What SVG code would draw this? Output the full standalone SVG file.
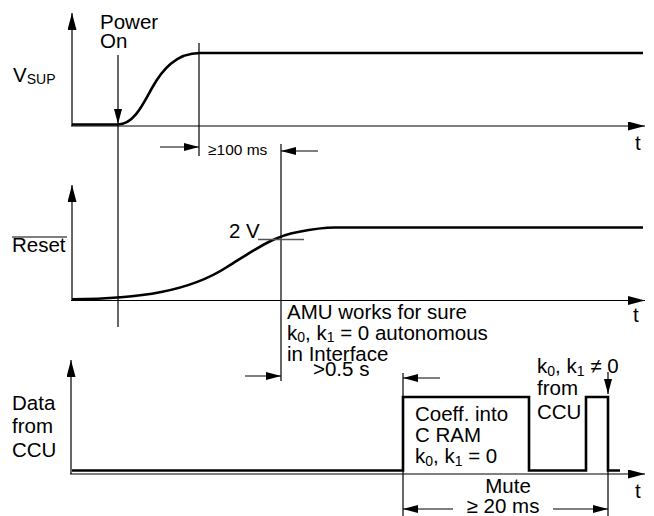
<svg xmlns="http://www.w3.org/2000/svg" width="654" height="516" viewBox="0 0 654 516">
<style>
text{font-family:"Liberation Sans",Arial,Helvetica,sans-serif;font-size:20.5px;fill:#000}
.sm{font-size:15.5px}
.sub{font-size:14px}
.thin{stroke:#000;stroke-width:1.2;fill:none}
.thick{stroke:#000;stroke-width:2.6;fill:none;stroke-linejoin:miter}
.gray{stroke:#555;stroke-width:1.4;fill:none}
</style>
<defs>
<marker id="ax" markerUnits="userSpaceOnUse" markerWidth="17" markerHeight="9" refX="17" refY="4.5" orient="auto"><path d="M0,0 L17,4.5 L0,9 z" fill="#000"/></marker>
<marker id="dim" markerUnits="userSpaceOnUse" markerWidth="15" markerHeight="8" refX="15" refY="4" orient="auto"><path d="M0,0 L15,4 L0,8 z" fill="#000"/></marker>
</defs>
<rect width="654" height="516" fill="#fff"/>
<g id="connectors">
<line class="thin" x1="72" y1="126" x2="72" y2="13" marker-end="url(#ax)"/>
<line class="thin" x1="71" y1="126" x2="645" y2="126" marker-end="url(#ax)"/>
<path class="thick" d="M72,124.5 L118,124.5 C134,124.5 143,104 152,88 C162,70 176,53 200,53 L643,53"/>
<line class="thin" x1="118" y1="55" x2="118" y2="124" marker-end="url(#dim)"/>
<line class="thin" x1="118" y1="124" x2="118" y2="327"/>
<line class="thin" x1="199" y1="43" x2="199" y2="156"/>
<line class="thin" x1="160" y1="147" x2="199" y2="147" marker-end="url(#dim)"/>
<line class="thin" x1="318" y1="151" x2="281" y2="151" marker-end="url(#dim)"/>
<line class="thin" x1="281" y1="144" x2="281" y2="381"/>
<line class="thin" x1="72" y1="300" x2="72" y2="185" marker-end="url(#ax)"/>
<line class="thin" x1="71" y1="300.5" x2="645" y2="300.5" marker-end="url(#ax)"/>
<path class="thick" d="M72,299.2 C140,299 190,291 227,267 C256,249 274,236 298,232 C313,229 322,227.5 335,227.5 L643,227.5"/>
<line class="gray" x1="258" y1="239.5" x2="304" y2="239.5"/>
<line class="thin" x1="245" y1="376" x2="281" y2="376" marker-end="url(#dim)"/>
<line class="thin" x1="71" y1="474" x2="71" y2="360" marker-end="url(#ax)"/>
<line class="thin" x1="70" y1="474" x2="645" y2="474" marker-end="url(#ax)"/>
<path class="thick" d="M72,470.5 L403,470.5 L403,397 L529,397 L529,470.5 L586,470.5 L586,397 L608,397 L608,470.5 L620,470.5"/>
<line class="thin" x1="403" y1="373" x2="403" y2="516"/>
<line class="thin" x1="608" y1="470" x2="608" y2="516"/>
<line class="thin" x1="440" y1="378" x2="403" y2="378" marker-end="url(#dim)"/>
<line class="thin" x1="608" y1="372" x2="608" y2="394" marker-end="url(#dim)"/>
<line class="thin" x1="453" y1="509" x2="403" y2="509" marker-end="url(#dim)"/>
<line class="thin" x1="553" y1="509" x2="608" y2="509" marker-end="url(#dim)"/>
</g>
<g id="label-vsup"><text x="13" y="82">V<tspan class="sub" dy="2">SUP</tspan></text></g>
<g id="label-power-on"><text x="100" y="29">Power</text><text x="100" y="48">On</text></g>
<g id="label-100ms"><text class="sm" x="208" y="155">≥100 ms</text></g>
<g id="label-t1"><text x="635" y="150">t</text></g>
<g id="label-reset"><text x="12" y="252">Reset</text><line x1="12" y1="237" x2="67" y2="237" stroke="#000" stroke-width="1.2"/></g>
<g id="label-2v"><text x="229" y="238">2 V</text></g>
<g id="label-t2"><text x="633" y="322">t</text></g>
<g id="label-amu"><text x="287" y="319">AMU works for sure</text><text x="287" y="339.5">k<tspan class="sub" dy="2.5">0</tspan><tspan dy="-2.5">, k</tspan><tspan class="sub" dy="2.5">1</tspan><tspan dy="-2.5"> = 0 autonomous</tspan></text><text x="287" y="360.5">in Interface</text></g>
<g id="label-05s"><text x="313" y="376">&gt;0.5 s</text></g>
<g id="label-data"><text x="12" y="410">Data</text><text x="12" y="433">from</text><text x="12" y="457">CCU</text></g>
<g id="label-coeff"><text x="415" y="421">Coeff. into</text><text x="415" y="442">C RAM</text><text x="415" y="463">k<tspan class="sub" dy="2.5">0</tspan><tspan dy="-2.5">, k</tspan><tspan class="sub" dy="2.5">1</tspan><tspan dy="-2.5"> = 0</tspan></text></g>
<g id="label-k-ccu"><text x="537" y="373">k<tspan class="sub" dy="2.5">0</tspan><tspan dy="-2.5">, k</tspan><tspan class="sub" dy="2.5">1</tspan><tspan dy="-2.5"> ≠ 0</tspan></text><text x="537" y="395">from</text><text x="537" y="419">CCU</text></g>
<g id="label-t3"><text x="635" y="498">t</text></g>
<g id="label-mute"><text x="508" y="493" text-anchor="middle">Mute</text><text x="503" y="513" text-anchor="middle">≥ 20 ms</text></g>
</svg>
